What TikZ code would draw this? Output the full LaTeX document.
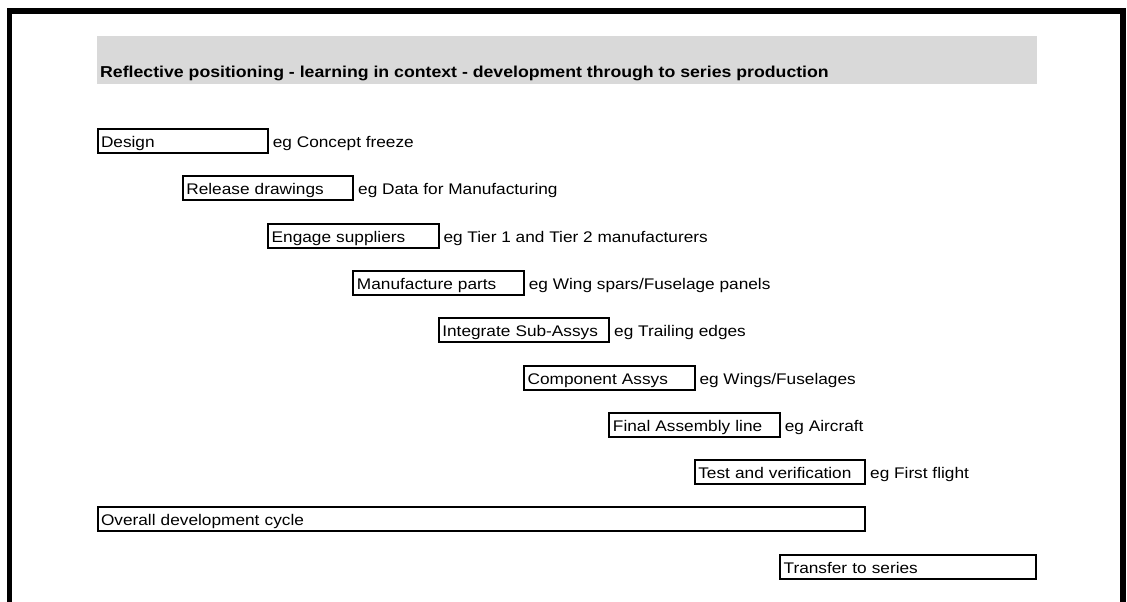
\documentclass[tikz,border=0pt]{standalone}
\usepackage{fontspec}
\setmainfont{Liberation Sans}[FakeStretch=1.12]
\begin{document}
\begin{tikzpicture}[x=1pt,y=-1pt,
  every node/.style={font=\fontsize{15.4}{18}\selectfont, text=black},
  stepbox/.style={draw=black, line width=2pt, anchor=north west,
    minimum height=24pt, inner xsep=3.5pt, inner ysep=0pt,
    text height=13pt, text depth=0pt, align=left},
  note/.style={anchor=base west, inner sep=0pt},
]
\def\cw{85.33}
\def\rh{47.3}
\useasboundingbox (0,0) rectangle (1127,602);
% page frame, open at the bottom
\draw[line width=5.5pt, line join=miter] (9.5,602) -- (9.5,11) -- (1123,11) -- (1123,602);
% title band
\fill[fill={rgb,255:red,217;green,217;blue,217}] (97,36) rectangle (1037,84);
\node[anchor=base west, inner sep=0pt, font=\fontsize{15.8}{18}\selectfont\bfseries] (title) at (100,77.5)
  {Reflective positioning - learning in context - development through to series production};

% stages, each shifted one column to the right
\foreach \name/\col/\row/\txt in {
  design/0/0/Design,
  release/1/1/Release drawings,
  engage/2/2/Engage suppliers,
  manufacture/3/3/Manufacture parts,
  integrate/4/4/Integrate Sub-Assys,
  component/5/5/Component Assys,
  final/6/6/Final Assembly line,
  test/7/7/Test and verification}
{
  \node[stepbox, text width={2*\cw-7}] (\name) at ({96.5+\col*\cw},{128+\row*\rh}) {\txt};
}
\node[note] (design-eg) at ([xshift=3.5pt]design.base east) {eg Concept freeze};
\node[note] (release-eg) at ([xshift=3.5pt]release.base east) {eg Data for Manufacturing};
\node[note] (engage-eg) at ([xshift=3.5pt]engage.base east) {eg Tier 1 and Tier 2 manufacturers};
\node[note] (manufacture-eg) at ([xshift=3.5pt]manufacture.base east) {eg Wing spars/Fuselage panels};
\node[note] (integrate-eg) at ([xshift=3.5pt]integrate.base east) {eg Trailing edges};
\node[note] (component-eg) at ([xshift=3.5pt]component.base east) {eg Wings/Fuselages};
\node[note] (final-eg) at ([xshift=3.5pt]final.base east) {eg Aircraft};
\node[note] (test-eg) at ([xshift=3.5pt]test.base east) {eg First flight};

\node[stepbox, text width={9*\cw-7}] (overall) at (96.5,{128+8*\rh}) {Overall development cycle};
\node[stepbox, text width={3*\cw-7}] (transfer) at ({96.5+8*\cw},{128+9*\rh}) {Transfer to series};
\end{tikzpicture}
\end{document}
